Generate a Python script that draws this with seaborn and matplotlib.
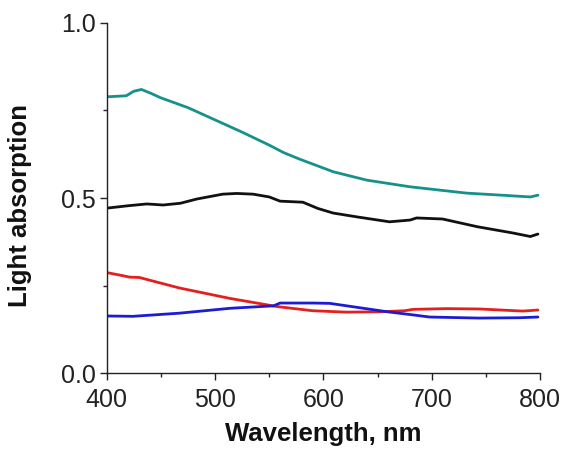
import numpy as np
import pandas as pd
import matplotlib
matplotlib.use("Agg")
import matplotlib.pyplot as plt
import seaborn as sns
from matplotlib.ticker import MultipleLocator, FormatStrFormatter

# Absorption spectra (wavelength in nm, absorption in relative units)
teal_wl = [400, 418, 425, 432, 440, 450, 475, 500, 525, 550, 563, 578, 609, 640, 680, 732, 770, 791, 798]
teal_abs = [0.789, 0.792, 0.805, 0.810, 0.800, 0.786, 0.758, 0.723, 0.688, 0.651, 0.630, 0.611, 0.575, 0.551, 0.532, 0.514, 0.507, 0.503, 0.508]

black_wl = [400, 420, 437, 452, 468, 483, 507, 520, 535, 550, 560, 581, 595, 609, 631, 661, 680, 686, 710, 742, 775, 791, 798]
black_abs = [0.471, 0.478, 0.483, 0.480, 0.485, 0.497, 0.511, 0.513, 0.511, 0.503, 0.491, 0.488, 0.470, 0.457, 0.446, 0.432, 0.437, 0.443, 0.440, 0.418, 0.400, 0.390, 0.397]

red_wl = [400, 415, 421, 430, 467, 514, 557, 590, 621, 652, 675, 683, 714, 744, 784, 798]
red_abs = [0.287, 0.278, 0.274, 0.273, 0.243, 0.213, 0.190, 0.178, 0.174, 0.175, 0.178, 0.182, 0.184, 0.183, 0.177, 0.180]

blue_wl = [400, 424, 467, 514, 554, 560, 590, 606, 637, 659, 683, 698, 744, 781, 798]
blue_abs = [0.163, 0.162, 0.171, 0.185, 0.192, 0.200, 0.200, 0.199, 0.185, 0.175, 0.166, 0.160, 0.157, 0.158, 0.160]

series = [
    (teal_wl, teal_abs, "#17918c"),
    (black_wl, black_abs, "#111111"),
    (red_wl, red_abs, "#e4201e"),
    (blue_wl, blue_abs, "#1c1cd2"),
]

sns.set_theme(style="ticks")
plt.rcParams["font.family"] = ["Liberation Sans", "DejaVu Sans"]

fig = plt.figure(figsize=(5.62, 4.5), dpi=100)
ax = fig.add_axes([0.19, 0.171, 0.771, 0.778])

for wl, ab, col in series:
    df = pd.DataFrame({"wl": wl, "abs": ab})
    sns.lineplot(data=df, x="wl", y="abs", color=col, linewidth=2.0, ax=ax)

ax.set_xlim(400, 800)
ax.set_ylim(0.0, 1.0)
ax.xaxis.set_major_locator(MultipleLocator(100))
ax.xaxis.set_minor_locator(MultipleLocator(50))
ax.yaxis.set_major_locator(MultipleLocator(0.5))
ax.yaxis.set_minor_locator(MultipleLocator(0.25))
ax.yaxis.set_major_formatter(FormatStrFormatter("%.1f"))

for s in ["top", "right"]:
    ax.spines[s].set_visible(False)
for s in ["left", "bottom"]:
    ax.spines[s].set_linewidth(1.0)
    ax.spines[s].set_color("#222222")

ax.tick_params(which="major", direction="out", length=5, width=1.0, labelsize=18, colors="#222222", pad=3)
ax.tick_params(axis="x", which="major", pad=6)
ax.tick_params(which="minor", direction="out", length=3, width=1.0, colors="#222222")

ax.set_xlabel("Wavelength, nm", fontsize=18.5, fontweight="bold", labelpad=7, color="#111111")
ax.set_ylabel("Light absorption", fontsize=18.5, fontweight="bold", color="#111111")
ax.yaxis.set_label_coords(-0.173, 0.48)

fig.savefig("out.png", dpi=100)
